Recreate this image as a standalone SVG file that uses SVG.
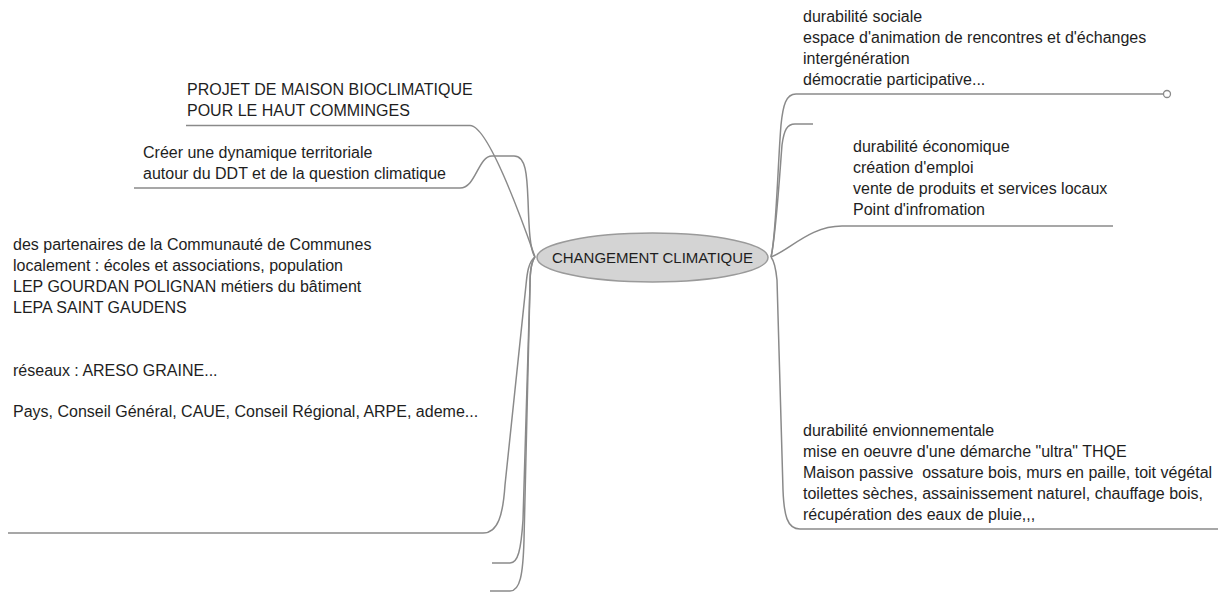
<svg xmlns="http://www.w3.org/2000/svg" width="1218" height="594" viewBox="0 0 1218 594">
<style>
.t{font-family:"Liberation Sans",Arial,sans-serif;font-size:16px;fill:#1e1e1e;white-space:pre}
.c{fill:none;stroke:#8a8a8a;stroke-width:1.5}
.center{font-family:"Liberation Sans",Arial,sans-serif;font-size:15px;fill:#1e1e1e}
</style>
<rect width="1218" height="594" fill="#ffffff"/>
<g id="connectors">
<path class="c" d="M535,257 C522,220 488,125.5 470,125.5 H186"/>
<path class="c" d="M535,257 C530,250 529,230 528,200 C527,175 526,156 514,156 H492 C478,156 476,188 460,188 H134"/>
<path class="c" d="M535,257 C528,262 527,275 526,285 L505,485 C503,515 498,533 483,533 H8"/>
<path class="c" d="M535,257 C531,262 530,275 530,285 L523,520 C521,550 518,563 510,563 H492"/>
<path class="c" d="M535,257 C531,262 530,275 530,285 L524,540 C523,575 520,591 510,591 H490"/>
<path class="c" d="M771,257 C776,240 778,160 781,125 C783,105 786,94 796,94 H1163.5"/>
<path class="c" d="M771,257 C776,235 780,170 782,145 C784,130 787,124 795,124 H813"/>
<path class="c" d="M771,257 C790,250 810,226 842,226 H1113"/>
<path class="c" d="M771,257 C775,262 776,270 777,280 L783,490 C784,515 787,529 800,529 H1218"/>
<circle cx="1167" cy="94" r="3.5" fill="#ffffff" stroke="#8a8a8a" stroke-width="1.3"/>
</g>
<g id="center">
<ellipse cx="652.5" cy="257.5" rx="115.5" ry="24.5" fill="#d4d4d4" stroke="#9a9a9a" stroke-width="1.5"/>
<text class="center" x="652.5" y="263" text-anchor="middle">CHANGEMENT CLIMATIQUE</text>
</g>
<g id="projet">
<text class="t" x="187" y="95">PROJET DE MAISON BIOCLIMATIQUE</text>
<text class="t" x="187" y="116">POUR LE HAUT COMMINGES</text>
</g>
<g id="dynamique">
<text class="t" x="143" y="158">Créer une dynamique territoriale</text>
<text class="t" x="143" y="179">autour du DDT et de la question climatique</text>
</g>
<g id="partenaires">
<text class="t" x="13" y="250">des partenaires de la Communauté de Communes</text>
<text class="t" x="13" y="271">localement : écoles et associations, population</text>
<text class="t" x="13" y="292">LEP GOURDAN POLIGNAN métiers du bâtiment</text>
<text class="t" x="13" y="313">LEPA SAINT GAUDENS</text>
<text class="t" x="13" y="375.5">réseaux : ARESO GRAINE...</text>
<text class="t" x="13" y="416.5">Pays, Conseil Général, CAUE, Conseil Régional, ARPE, ademe...</text>
</g>
<g id="empty-left-1"></g>
<g id="empty-left-2"></g>
<g id="sociale">
<text class="t" x="803" y="22">durabilité sociale</text>
<text class="t" x="803" y="43">espace d'animation de rencontres et d'échanges</text>
<text class="t" x="803" y="63.5">intergénération</text>
<text class="t" x="803" y="84.5">démocratie participative...</text>
</g>
<g id="empty-right"></g>
<g id="economique">
<text class="t" x="853" y="152">durabilité économique</text>
<text class="t" x="853" y="173">création d'emploi</text>
<text class="t" x="853" y="194">vente de produits et services locaux</text>
<text class="t" x="853" y="215">Point d'infromation</text>
</g>
<g id="environnementale">
<text class="t" x="803" y="436">durabilité envionnementale</text>
<text class="t" x="803" y="457">mise en oeuvre d'une démarche "ultra" THQE</text>
<text class="t" x="803" y="478">Maison passive  ossature bois, murs en paille, toit végétal</text>
<text class="t" x="803" y="499">toilettes sèches, assainissement naturel, chauffage bois,</text>
<text class="t" x="803" y="520">récupération des eaux de pluie,,,</text>
</g>
</svg>
